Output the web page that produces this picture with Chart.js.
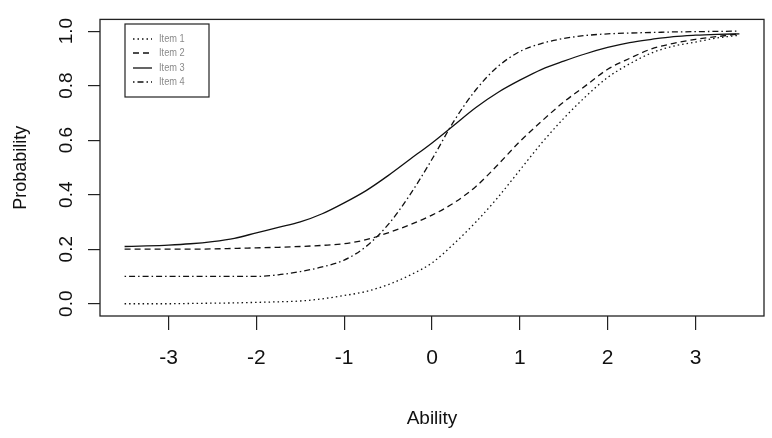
<!DOCTYPE html>
<html>
<head>
<meta charset="utf-8">
<script src="https://cdn.jsdelivr.net/npm/chart.js@4.4.1/dist/chart.umd.min.js"></script>
<style>
html,body{margin:0;padding:0;background:#fff;}
#wrap{width:772px;height:438px;position:relative;}
</style>
</head>
<body>
<div id="wrap"><canvas id="c" width="772" height="438"></canvas></div>
<script>
const ability = [-3.5,-3.25,-3,-2.75,-2.5,-2.25,-2,-1.75,-1.5,-1.25,-1,-0.75,-0.5,-0.25,0,0.25,0.5,0.75,1,1.25,1.5,1.75,2,2.25,2.5,2.75,3,3.25,3.5];
const item1 = [0.0,0.0,0.0,0.001,0.002,0.003,0.005,0.007,0.01,0.018,0.03,0.045,0.07,0.105,0.15,0.22,0.30,0.39,0.49,0.59,0.68,0.76,0.83,0.88,0.92,0.945,0.96,0.975,0.985];
const item2 = [0.2,0.2,0.2,0.2,0.201,0.203,0.205,0.207,0.21,0.214,0.22,0.235,0.26,0.29,0.325,0.37,0.43,0.51,0.595,0.67,0.74,0.80,0.86,0.90,0.935,0.955,0.97,0.98,0.99];
const item3 = [0.21,0.212,0.215,0.22,0.228,0.24,0.26,0.28,0.30,0.33,0.37,0.415,0.47,0.53,0.59,0.655,0.72,0.775,0.82,0.86,0.89,0.917,0.94,0.958,0.97,0.98,0.985,0.988,0.99];
const item4 = [0.1,0.1,0.1,0.1,0.1,0.1,0.1,0.106,0.118,0.135,0.16,0.21,0.29,0.40,0.53,0.67,0.785,0.87,0.925,0.955,0.973,0.984,0.99,0.993,0.995,0.997,0.998,0.999,1.0];
const seriesNames = ["Item 1","Item 2","Item 3","Item 4"];
const xTicks = [-3,-2,-1,0,1,2,3];
const yTicks = [0,0.2,0.4,0.6,0.8,1.0];

const dashes = [[1.5,3],[6,4],[],[1.5,3,6,3]];
const allSeries = [item1,item2,item3,item4];

const datasets = allSeries.map((vals,i)=>({
  label: seriesNames[i],
  data: ability.map((x,j)=>({x:x,y:vals[j]})),
  borderColor:'#111',
  borderWidth:1.3,
  borderDash:dashes[i],
  pointRadius:0,
  fill:false,
  cubicInterpolationMode:'monotone'
}));

const boxPlugin = {
  id:'box',
  afterDraw(chart){
    const {ctx, chartArea:a} = chart;
    ctx.save();
    ctx.strokeStyle='#222';
    ctx.lineWidth=1.3;
    ctx.strokeRect(a.left, a.top, a.right-a.left, a.bottom-a.top);
    // legend
    const lx=125, ly=24, lw=84, lh=73;
    ctx.fillStyle='#fff';
    ctx.fillRect(lx,ly,lw,lh);
    ctx.strokeStyle='#222';
    ctx.lineWidth=1.2;
    ctx.strokeRect(lx,ly,lw,lh);
    const rows=[39,53,68,82];
    ctx.textBaseline='middle';
    chart.data.datasets.forEach((ds,i)=>{
      ctx.beginPath();
      ctx.setLineDash(ds.borderDash);
      ctx.strokeStyle='#111';
      ctx.lineWidth=1.3;
      ctx.moveTo(133,rows[i]);
      ctx.lineTo(152,rows[i]);
      ctx.stroke();
      ctx.setLineDash([]);
      ctx.save();
      ctx.translate(159,rows[i]);
      ctx.scale(0.88,1);
      ctx.font='10.5px "Liberation Sans", Arial, sans-serif';
      ctx.fillStyle='#8a8a8a';
      ctx.fillText(ds.label,0,0);
      ctx.restore();
    });
    ctx.restore();
  }
};

new Chart(document.getElementById('c'),{
  type:'line',
  data:{datasets},
  plugins:[boxPlugin],
  options:{
    responsive:false,
    animation:false,
    layout:{padding:{top:12,right:8,left:0,bottom:0}},
    plugins:{legend:{display:false},tooltip:{enabled:false}},
    scales:{
      x:{
        type:'linear',
        min:-3.78,max:3.78,
        afterBuildTicks(s){ s.ticks = xTicks.map(v=>({value:v})); },
        afterFit(s){ s.height = 122; },
        grid:{display:true,drawOnChartArea:false,drawTicks:true,tickLength:14,color:'#222',lineWidth:1.2},
        border:{display:false},
        ticks:{color:'#111',padding:16,font:{family:'"Liberation Sans", Arial, sans-serif',size:21},maxRotation:0,callback:v=>String(v)},
        title:{display:true,text:'Ability',color:'#111',font:{family:'"Liberation Sans", Arial, sans-serif',size:19},padding:{top:0,bottom:8}}
      },
      y:{
        type:'linear',
        min:-0.045,max:1.043,
        afterBuildTicks(s){ s.ticks = yTicks.map(v=>({value:v})); },
        afterFit(s){ s.width = 100; },
        grid:{display:true,drawOnChartArea:false,drawTicks:true,tickLength:12,color:'#222',lineWidth:1.2},
        border:{display:false},
        ticks:{color:'#111',padding:8,minRotation:90,maxRotation:90,crossAlign:'center',font:{family:'"Liberation Sans", Arial, sans-serif',size:19},callback:v=>v.toFixed(1)},
        title:{display:true,text:'Probability',color:'#111',font:{family:'"Liberation Sans", Arial, sans-serif',size:18},padding:{top:10,bottom:0}}
      }
    }
  }
});
</script>
</body>
</html>
